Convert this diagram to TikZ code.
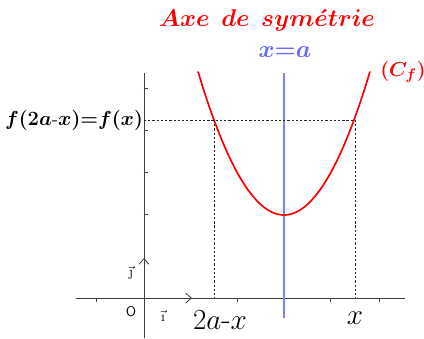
\documentclass[tikz,border=0pt]{standalone}
\usepackage{amsmath,amssymb}
\usepackage{tikz}
\usetikzlibrary{arrows.meta}

\begin{document}
\begin{tikzpicture}[
  x=0.025cm, y=-0.025cm,
  axis/.style={draw=black!75, line width=0.6pt},
  tick/.style={draw=black!75, line width=0.5pt},
  guide/.style={draw=black!85, dash pattern=on 1.6pt off 1.4pt, line width=0.5pt},
  courbe/.style={draw=red, line width=1.2pt},
  sym/.style={draw=blue!50, line width=1.2pt},
  vect/.style={draw=black!75, line width=0.6pt, -{Straight Barb[length=4pt,width=7pt]}}
]
\useasboundingbox (0,0) rectangle (424,338);

% repere
\coordinate (O) at (144,298);
\coordinate (xmin) at (76,298);
\coordinate (xmax) at (405,298);
\coordinate (ymax) at (144,73);
\coordinate (ymin) at (144,338);
\draw[axis] (xmin) -- (xmax);
\draw[axis] (ymin) -- (ymax);
\foreach \x in {96,237,330,379} {\draw[tick] (\x,298) -- ++(0,4);}
\foreach \y in {88,130,172,214} {\draw[tick] (144,\y) -- ++(4,0);}

\coordinate (ivec) at (192,298);
\coordinate (jvec) at (144,258);
\draw[vect] (O) -- (ivec);
\draw[vect] (O) -- (jvec);
\node[font=\normalsize\sffamily] (o) at (131,312) {O};
\node[font=\normalsize] (i) at (163,316) {$\vec{\textrm{\i}}$};
\node[font=\normalsize] (j) at (131,273) {$\vec{\textrm{\j}}$};

% axe de symetrie
\coordinate (stop) at (284,73);
\coordinate (sbot) at (284,318);
\draw[sym] (stop) -- (sbot);

% courbe
\draw[courbe] plot[domain=198:370, samples=80] (\x, {215-0.01939*(\x-284)^2});

% points symetriques
\coordinate (A) at (214,120);
\coordinate (B) at (355,120);
\coordinate (yA) at (144,120);
\coordinate (xA) at (214,298);
\coordinate (xB) at (355,298);
\draw[guide] (yA) -- (B);
\draw[guide] (A) -- (xA);
\draw[guide] (B) -- (xB);

% textes
\node[text=red, font=\fontsize{16.5}{18}\selectfont] (titre) at (267,20) {$\boldsymbol{Axe\ \,de\ \,sym\acute{e}trie}$};
\node[text=blue!60, font=\fontsize{16}{18}\selectfont] (xa) at (285,52) {$\boldsymbol{x{=}a}$};
\node[text=red, font=\fontsize{15}{17}\selectfont] (cf) at (403,72) {$\boldsymbol{(C_f)}$};
\node[font=\fontsize{13.6}{15}\selectfont] (fy) at (74,120) {$\boldsymbol{f(2a\text{-}x){=}f(x)}$};
\node[font=\fontsize{22}{24}\selectfont] (xm) at (220,320) {$2a\text{-}x$};
\node[font=\fontsize{22}{24}\selectfont] (xx) at (355,318) {$x$};
\end{tikzpicture}
\end{document}
